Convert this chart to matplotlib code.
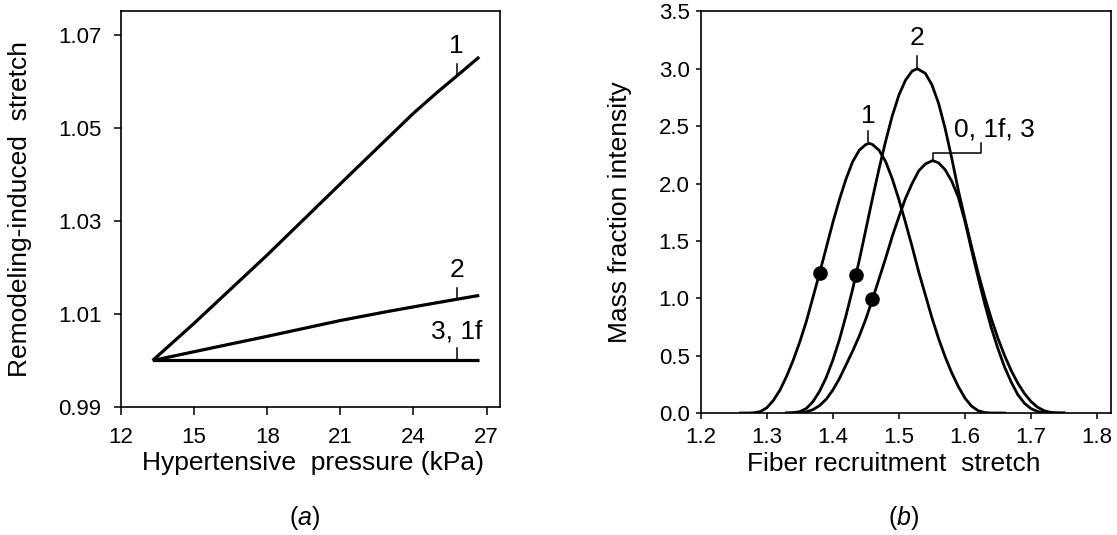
import matplotlib
matplotlib.use("Agg")
import matplotlib.pyplot as plt

plt.rcParams['font.family'] = ['Liberation Sans', 'DejaVu Sans']
plt.rcParams['mathtext.fontset'] = 'custom'
plt.rcParams['mathtext.rm'] = 'Liberation Sans'
plt.rcParams['mathtext.it'] = 'Liberation Sans:italic'

# ---------------- data: panel (a) ----------------
pressure_1 = [13.3, 15.0, 18.0, 21.0, 24.0, 25.0, 26.0, 26.7]
stretch_1 = [1.0000, 1.0080, 1.0227, 1.0380, 1.0532, 1.0578, 1.0622, 1.0653]
pressure_2 = [13.3, 16.0, 18.0, 21.0, 23.0, 24.5, 25.7, 26.7]
stretch_2 = [1.0000, 1.0030, 1.0052, 1.0086, 1.0106, 1.0120, 1.0131, 1.0140]
pressure_3 = [13.3, 26.7]
stretch_3 = [1.0000, 1.0000]
a_xticks = [12, 15, 18, 21, 24, 27]
a_yticks = [0.99, 1.01, 1.03, 1.05, 1.07]

# ---------------- data: panel (b) ----------------
lam_1 = [1.26, 1.27, 1.28, 1.29, 1.30, 1.31, 1.32, 1.33, 1.34, 1.35, 1.36, 1.37,
         1.38, 1.39, 1.40, 1.41, 1.42, 1.43, 1.44, 1.45, 1.455, 1.46, 1.47, 1.48,
         1.49, 1.50, 1.51, 1.52, 1.53, 1.54, 1.55, 1.56, 1.57, 1.58, 1.59, 1.60,
         1.61, 1.62, 1.63, 1.64, 1.65, 1.66]
mass_1 = [0, 0, 0.002, 0.012, 0.045, 0.11, 0.20, 0.32, 0.46, 0.62, 0.80, 1.01,
          1.22, 1.44, 1.66, 1.86, 2.04, 2.19, 2.29, 2.34, 2.35, 2.34, 2.29, 2.19,
          2.04, 1.86, 1.66, 1.45, 1.23, 1.03, 0.83, 0.65, 0.49, 0.35, 0.23, 0.13,
          0.06, 0.02, 0.004, 0, 0, 0]
lam_2 = [1.33, 1.34, 1.35, 1.36, 1.37, 1.38, 1.39, 1.40, 1.41, 1.42, 1.43, 1.44,
         1.45, 1.46, 1.47, 1.48, 1.49, 1.50, 1.51, 1.52, 1.528, 1.54, 1.55, 1.56,
         1.57, 1.58, 1.59, 1.60, 1.61, 1.62, 1.63, 1.64, 1.65, 1.66, 1.67, 1.68,
         1.69, 1.70, 1.71, 1.72, 1.73, 1.74, 1.75]
mass_2 = [0, 0.003, 0.012, 0.04, 0.10, 0.19, 0.31, 0.46, 0.64, 0.85, 1.08, 1.33,
          1.60, 1.87, 2.13, 2.37, 2.59, 2.77, 2.90, 2.98, 3.00, 2.96, 2.86, 2.70,
          2.48, 2.22, 1.94, 1.69, 1.45, 1.22, 1.01, 0.82, 0.65, 0.50, 0.37, 0.26,
          0.17, 0.10, 0.05, 0.02, 0.005, 0.001, 0]
lam_0 = [1.33, 1.34, 1.35, 1.36, 1.37, 1.38, 1.39, 1.40, 1.41, 1.42, 1.43, 1.44,
         1.45, 1.46, 1.47, 1.48, 1.49, 1.50, 1.51, 1.52, 1.53, 1.54, 1.551, 1.56,
         1.57, 1.58, 1.59, 1.60, 1.61, 1.62, 1.63, 1.64, 1.65, 1.66, 1.67, 1.68,
         1.69, 1.70, 1.71, 1.72, 1.73, 1.75]
mass_0 = [0, 0, 0.002, 0.01, 0.03, 0.065, 0.12, 0.20, 0.30, 0.42, 0.54, 0.67,
          0.82, 0.99, 1.17, 1.35, 1.54, 1.71, 1.87, 2.00, 2.11, 2.17, 2.20, 2.18,
          2.12, 2.02, 1.88, 1.67, 1.42, 1.18, 0.95, 0.74, 0.56, 0.40, 0.27, 0.16,
          0.085, 0.038, 0.013, 0.003, 0, 0]
dot_lam = [1.38, 1.435, 1.46]
dot_mass = [1.22, 1.20, 0.99]
b_xticks = [1.2, 1.3, 1.4, 1.5, 1.6, 1.7, 1.8]
b_yticks = [0.0, 0.5, 1.0, 1.5, 2.0, 2.5, 3.0, 3.5]

FS_TICK = 16
FS_LAB = 19

fig = plt.figure(figsize=(11.17, 5.35), dpi=100)
ax1 = fig.add_axes([0.1083, 0.2393, 0.3393, 0.7402])
ax2 = fig.add_axes([0.6273, 0.2280, 0.3673, 0.7514])

# ---------------- panel (a) ----------------
lw_a = 2.3
ax1.plot(pressure_1, stretch_1, color='black', lw=lw_a, solid_capstyle='butt')
ax1.plot(pressure_2, stretch_2, color='black', lw=lw_a, solid_capstyle='butt')
ax1.plot(pressure_3, stretch_3, color='black', lw=lw_a, solid_capstyle='butt')
ax1.set_xlim(12, 27.55)
ax1.set_ylim(0.99, 1.0752)
ax1.set_xticks(a_xticks)
ax1.set_yticks(a_yticks)
ax1.set_yticklabels([f"{v:.2f}" for v in a_yticks])
ax1.tick_params(direction='out', width=1.1, labelsize=FS_TICK)
ax1.tick_params(axis='x', length=5.5, pad=9)
ax1.tick_params(axis='y', length=5, pad=9)
for s in ax1.spines.values():
    s.set_linewidth(1.2)
ax1.set_ylabel("Remodeling-induced  stretch", fontsize=FS_LAB)
ax1.yaxis.set_label_coords(-0.235, 0.5)
ax1.set_xlabel("Hypertensive  pressure (kPa)", fontsize=FS_LAB)
ax1.xaxis.set_label_coords(0.507, -0.112)

a_lab_x = 25.77
a_labels = ["1", "2", "3, 1f"]
a_lead_lo = [1.0615, 1.0134, 1.0000]
a_lead_hi = [1.0637, 1.0156, 1.0027]
a_text_y = [1.0676, 1.0195, 1.0062]
for t, lo, hi, ty in zip(a_labels, a_lead_lo, a_lead_hi, a_text_y):
    ax1.plot([a_lab_x, a_lab_x], [lo, hi], color='black', lw=1.1)
    ax1.text(a_lab_x, ty, t, fontsize=FS_LAB, ha='center', va='center')

# ---------------- panel (b) ----------------
lw_b = 2.0
ax2.plot(lam_1, mass_1, color='black', lw=lw_b)
ax2.plot(lam_2, mass_2, color='black', lw=lw_b)
ax2.plot(lam_0, mass_0, color='black', lw=lw_b)
ax2.plot(dot_lam, dot_mass, 'o', color='black', ms=9.5, ls='none')
ax2.set_xlim(1.2, 1.821)
ax2.set_ylim(0, 3.503)
ax2.set_xticks(b_xticks)
ax2.set_yticks(b_yticks)
ax2.set_xticklabels([f"{v:.1f}" for v in b_xticks])
ax2.set_yticklabels([f"{v:.1f}" for v in b_yticks])
ax2.tick_params(direction='out', width=1.1, labelsize=FS_TICK)
ax2.tick_params(axis='x', length=4.3, pad=5.5)
ax2.tick_params(axis='y', length=3.6, pad=4.3)
for s in ax2.spines.values():
    s.set_linewidth(1.2)
ax2.set_ylabel("Mass fraction intensity", fontsize=FS_LAB)
ax2.yaxis.set_label_coords(-0.167, 0.5)
ax2.set_xlabel("Fiber recruitment  stretch", fontsize=FS_LAB)
ax2.xaxis.set_label_coords(0.47, -0.098)

# labels with leaders
ax2.plot([1.453, 1.453], [2.36, 2.46], color='black', lw=1.1)
ax2.text(1.453, 2.59, "1", fontsize=FS_LAB, ha='center', va='center')
ax2.plot([1.527, 1.527], [3.01, 3.11], color='black', lw=1.1)
ax2.text(1.527, 3.27, "2", fontsize=FS_LAB, ha='center', va='center')
ax2.plot([1.551, 1.551, 1.624, 1.624], [2.21, 2.265, 2.265, 2.35], color='black', lw=1.1)
ax2.text(1.584, 2.47, "0, 1f, 3", fontsize=FS_LAB, ha='left', va='center')

# panel captions
fig.text(305 / 1117, 1 - 518 / 535, r"($\it{a}$)", fontsize=FS_LAB - 1, ha='center', va='center')
fig.text(904 / 1117, 1 - 518 / 535, r"($\it{b}$)", fontsize=FS_LAB - 1, ha='center', va='center')

fig.savefig("out.png", dpi=100)
